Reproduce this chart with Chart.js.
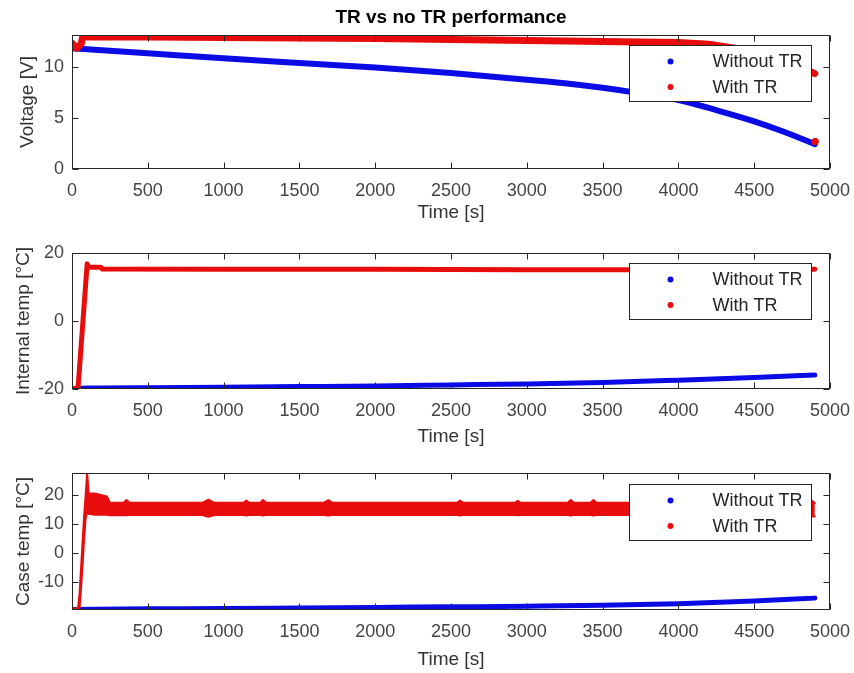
<!DOCTYPE html>
<html lang="en">
<head>
<meta charset="UTF-8">
<title>TR vs no TR performance</title>
<script src="https://cdn.jsdelivr.net/npm/chart.js@4"></script>
<style>
  body { margin: 0; background: #fff; }
  .wrap { position: relative; width: 854px; height: 673px; }
  .panel { position: absolute; left: 0; width: 854px; }
</style>
</head>
<body>
<div class="wrap">
  <div class="panel" style="top:0;height:225px"><canvas id="voltChart"></canvas></div>
  <div class="panel" style="top:225px;height:225px"><canvas id="intChart"></canvas></div>
  <div class="panel" style="top:450px;height:223px"><canvas id="caseChart"></canvas></div>
</div>
<script>
  // tick labels
  const timeTicks = [0, 500, 1000, 1500, 2000, 2500, 3000, 3500, 4000, 4500, 5000];
  const voltTicks = [0, 5, 10];
  const intTicks = [-20, 0, 20];
  const caseTicks = [-10, 0, 10, 20];
  const seriesNames = ['Without TR', 'With TR'];

  // voltage [V]
  const voltTimeWithout = [0, 500, 1000, 1500, 2000, 2500, 3000, 3250, 3500, 3750, 4000, 4250, 4500, 4700, 4900];
  const voltWithout = [11.9, 11.4, 10.9, 10.45, 10.0, 9.45, 8.8, 8.45, 8.0, 7.45, 6.8, 5.8, 4.7, 3.65, 2.45];
  const voltTimeWithTR = [0, 30, 60, 75, 100, 500, 1000, 1500, 2000, 2500, 3000, 3500, 4000, 4200, 4500, 4700, 4900, 4901, 4902];
  const voltWithTR = [12.4, 11.9, 12.3, 13.3, 13.0, 13.0, 12.95, 12.9, 12.85, 12.75, 12.65, 12.55, 12.45, 12.3, 11.6, 10.8, 9.4, null, 2.7];

  // internal temp [°C]
  const intTimeWithout = [0, 100, 500, 1000, 1500, 2000, 2500, 3000, 3500, 4000, 4500, 4900];
  const intWithout = [-20, -19.7, -19.6, -19.5, -19.3, -19.1, -18.8, -18.5, -18.1, -17.4, -16.6, -15.9];
  const intTimeWithTR = [0, 40, 100, 110, 190, 200, 1000, 2000, 3000, 4000, 4900];
  const intWithTR = [-20, -19.6, 16.8, 15.8, 15.8, 15.3, 15.2, 15.2, 15.1, 15.1, 15.2];

  // case temp [°C]
  const caseTimeWithout = [0, 500, 1000, 1500, 2000, 2500, 3000, 3500, 4000, 4500, 4900];
  const caseWithout = [-19.5, -19.3, -19.2, -19.0, -18.8, -18.6, -18.4, -18.1, -17.5, -16.6, -15.6];
  // with TR is a noisy band: upper and lower edge
  const caseTimeWithTR = [0, 40, 50, 60, 70, 80, 90, 100, 110, 150, 230, 250,
    340, 360, 380, 860, 900, 940, 1130, 1150, 1170, 1240, 1260, 1280, 1660, 1690, 1720,
    2540, 2560, 2580, 2920, 2940, 2960, 3270, 3290, 3310, 3420, 3440, 3460, 4860, 4880, 4900];
  const caseWithTRHigh = [-19.3, -19.0, -14, -5, 4, 13, 20, 27.6, 20.5, 20.5, 19.5, 17.4,
    17.3, 18.3, 17.3, 17.3, 18.4, 17.3, 17.3, 18.1, 17.3, 17.3, 18.3, 17.3, 17.3, 18.2, 17.3,
    17.3, 18.1, 17.3, 17.3, 18.0, 17.3, 17.3, 18.3, 17.3, 17.3, 18.3, 17.3, 17.3, 18.0, 17.2];
  const caseWithTRLow = [-19.8, -19.8, -19.0, -12, -4, 5, 12, 14, 13.5, 13.2, 13.2, 13.0,
    13.1, 13.0, 13.1, 13.1, 12.5, 13.1, 13.1, 12.9, 13.1, 13.1, 12.9, 13.1, 13.1, 12.9, 13.1,
    13.1, 12.9, 13.1, 13.1, 13.0, 13.1, 13.1, 12.9, 13.1, 13.1, 12.9, 13.1, 13.1, 12.6, 12.6];

  const BLUE = '#0b0be6';
  const RED = '#e80c0c';
  const AXIS = '#262626';
  const FONT = '"Liberation Sans", Arial, sans-serif';

  function pts(xs, ys) {
    return xs.map((x, i) => ({ x: x, y: ys[i] }));
  }

  const framePlugin = {
    id: 'matlabFrame',
    afterDraw(chart) {
      const cfg = chart.options.plugins.matlabFrame;
      const ctx = chart.ctx;
      const a = chart.chartArea;
      const L = Math.round(a.left) + 0.5, R = Math.round(a.right) - 0.5;
      const T = Math.round(a.top) + 0.5, B = Math.round(a.bottom) - 0.5;
      ctx.save();

      // legend
      const lw = 182, lh = 56;
      const lx = Math.round(a.right - 19 - lw) + 0.5;
      const ly = Math.round(a.top + cfg.legendTop) + 0.5;
      ctx.fillStyle = '#fff';
      ctx.fillRect(lx, ly, lw, lh);
      ctx.strokeStyle = AXIS;
      ctx.lineWidth = 1;
      ctx.strokeRect(lx, ly, lw, lh);
      ctx.font = '18px ' + FONT;
      ctx.textBaseline = 'middle';
      ctx.textAlign = 'left';
      [BLUE, RED].forEach((c, i) => {
        const y = ly + 16 + i * 25.5;
        ctx.fillStyle = c;
        ctx.beginPath();
        ctx.arc(lx + 41, y, 3, 0, Math.PI * 2);
        ctx.fill();
        ctx.fillStyle = AXIS;
        ctx.fillText(seriesNames[i], lx + 83, y + 1);
      });

      // box + inward ticks
      ctx.strokeStyle = AXIS;
      ctx.lineWidth = 1;
      ctx.strokeRect(L, T, R - L, B - T);
      const tl = 6;
      ctx.beginPath();
      chart.scales.x.ticks.forEach(t => {
        const px = Math.round(chart.scales.x.getPixelForValue(t.value)) + 0.5;
        ctx.moveTo(px, B); ctx.lineTo(px, B - tl);
        ctx.moveTo(px, T); ctx.lineTo(px, T + tl);
      });
      chart.scales.y.ticks.forEach(t => {
        const py = Math.round(chart.scales.y.getPixelForValue(t.value)) + 0.5;
        ctx.moveTo(L, py); ctx.lineTo(L + tl, py);
        ctx.moveTo(R, py); ctx.lineTo(R - tl, py);
      });
      ctx.stroke();
      ctx.restore();
    }
  };

  function lineSet(data, color, width, extra) {
    return Object.assign({
      data: data,
      showLine: true,
      borderColor: color,
      backgroundColor: color,
      borderWidth: width,
      borderCapStyle: 'round',
      borderJoinStyle: 'round',
      cubicInterpolationMode: 'monotone',
      pointRadius: 0,
      pointBorderWidth: 0,
      spanGaps: false
    }, extra || {});
  }

  function makeChart(id, o) {
    new Chart(document.getElementById(id), {
      type: 'scatter',
      data: { datasets: o.datasets },
      plugins: [framePlugin],
      options: {
        responsive: true,
        maintainAspectRatio: false,
        animation: false,
        layout: { padding: { top: o.padTop, right: 24, bottom: 0, left: 0 } },
        plugins: {
          legend: { display: false },
          tooltip: { enabled: false },
          title: {
            display: !!o.title,
            text: o.title,
            fullSize: false,
            color: '#000',
            font: { family: FONT, size: 19, weight: 'bold', lineHeight: 1.2 },
            padding: { top: 6, bottom: 6.2 }
          },
          matlabFrame: { legendTop: o.legendTop }
        },
        scales: {
          x: {
            type: 'linear',
            min: 0,
            max: 5000,
            grid: { display: false, drawTicks: false, tickLength: 0 },
            border: { display: false },
            afterBuildTicks: s => { s.ticks = timeTicks.map(v => ({ value: v })); },
            afterFit: s => { s.height = o.xHeight; s.paddingLeft = 0; s.paddingRight = 0; },
            ticks: {
              color: '#444',
              padding: 11,
              maxRotation: 0,
              autoSkip: false,
              font: { family: FONT, size: 18 },
              callback: v => String(v)
            },
            title: {
              display: true,
              text: 'Time [s]',
              color: '#333',
              font: { family: FONT, size: 19, lineHeight: 1.2 },
              padding: { top: 0, bottom: o.xTitlePad }
            }
          },
          y: {
            type: 'linear',
            min: o.yMin,
            max: o.yMax,
            grid: { display: false, drawTicks: false, tickLength: 0 },
            border: { display: false },
            afterBuildTicks: s => { s.ticks = o.yTicks.map(v => ({ value: v })); },
            afterFit: s => { s.width = 72; s.paddingTop = 0; s.paddingBottom = 0; },
            ticks: {
              color: '#444',
              padding: 8,
              font: { family: FONT, size: 18 },
              callback: v => String(v)
            },
            title: {
              display: true,
              text: o.yLabel,
              color: '#333',
              font: { family: FONT, size: 19, lineHeight: 1.2 },
              padding: { top: o.yTitlePad, bottom: 0 }
            }
          }
        }
      }
    });
  }

  const lastDot = ctx => (ctx.dataIndex === voltTimeWithTR.length - 1 ? 3.5 : 0);

  makeChart('voltChart', {
    title: 'TR vs no TR performance',
    padTop: 0,
    xHeight: 56,
    xTitlePad: 0.6,
    yMin: 0, yMax: 13.2, yTicks: voltTicks,
    yLabel: 'Voltage [V]',
    yTitlePad: 16.5,
    legendTop: 10,
    datasets: [
      lineSet(pts(voltTimeWithTR, voltWithTR), RED, 7, { pointRadius: lastDot, cubicInterpolationMode: 'default' }),
      lineSet(pts(voltTimeWithout, voltWithout), BLUE, 6)
    ]
  });

  makeChart('intChart', {
    padTop: 28,
    xHeight: 61,
    xTitlePad: 1.6,
    yMin: -20, yMax: 20, yTicks: intTicks,
    yLabel: 'Internal temp [°C]',
    yTitlePad: 12.6,
    legendTop: 10,
    datasets: [
      lineSet(pts(intTimeWithTR, intWithTR), RED, 5, { cubicInterpolationMode: 'default' }),
      lineSet(pts(intTimeWithout, intWithout), BLUE, 5)
    ]
  });

  makeChart('caseChart', {
    padTop: 23,
    xHeight: 63,
    xTitlePad: 1.6,
    yMin: -19.7, yMax: 27.6, yTicks: caseTicks,
    yLabel: 'Case temp [°C]',
    yTitlePad: 12.6,
    legendTop: 11,
    datasets: [
      lineSet(pts(caseTimeWithTR, caseWithTRHigh), RED, 2, { fill: '+1', cubicInterpolationMode: 'default' }),
      lineSet(pts(caseTimeWithTR, caseWithTRLow), RED, 2, { cubicInterpolationMode: 'default' }),
      lineSet(pts(caseTimeWithout, caseWithout), BLUE, 5)
    ]
  });
</script>
</body>
</html>
